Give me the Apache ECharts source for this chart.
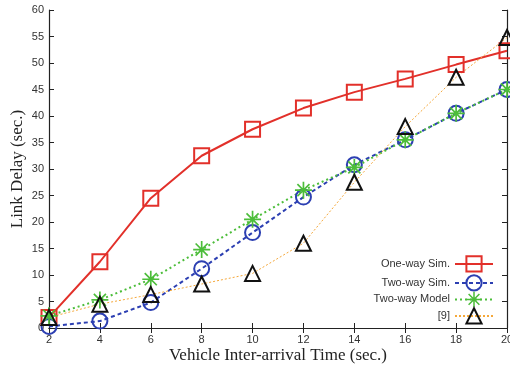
<!DOCTYPE html>
<html>
<head>
<meta charset="utf-8">
<script src="https://cdn.jsdelivr.net/npm/echarts@6/dist/echarts.min.js"></script>
<style>
  html, body { margin: 0; padding: 0; background: #fff; }
  #linkDelayChart { width: 510px; height: 367px; }
</style>
</head>
<body>
<div id="linkDelayChart"></div>
<script>
// 数据：车辆到达间隔 vs 链路时延
const interArrival = [2, 4, 6, 8, 10, 12, 14, 16, 18, 20]
const oneWaySim = [2.0, 12.5, 24.5, 32.5, 37.5, 41.5, 44.5, 47.0, 49.7, 52.3]
const twoWaySim = [0.3, 1.3, 4.8, 11.2, 18.0, 24.7, 30.8, 35.5, 40.5, 45.0]
const twoWayModel = [2.3, 5.3, 9.2, 14.8, 20.5, 26.0, 30.3, 35.5, 40.5, 45.0]
const ref9 = [2.0, 4.5, 6.3, 8.3, 10.3, 16.0, 27.5, 38.0, 47.3, 54.8]
const seriesNames = ['One-way Sim.', 'Two-way Sim.', 'Two-way Model', '[9]']

// 星号标记（gnuplot 的 * 号）
const asterisk = 'path://M0 9L20 9L20 11L0 11Z M9 0L11 0L11 20L9 20Z ' +
  'M2.2 3.6L3.6 2.2L17.8 16.4L16.4 17.8Z M16.4 2.2L17.8 3.6L3.6 17.8L2.2 16.4Z'

const pairs = arr => interArrival.map((x, i) => [x, arr[i]])

const chart = echarts.init(document.getElementById('linkDelayChart'))

function makeSeries(name, data, color, lineType, lineWidth, symbol, filled) {
  return {
    name: name,
    type: 'line',
    data: pairs(data),
    symbol: symbol,
    symbolSize: filled ? 17 : 15,
    showAllSymbol: true,
    animation: false,
    lineStyle: { color: color, width: lineWidth, type: lineType },
    itemStyle: filled
      ? { color: color, borderWidth: 0 }
      : { color: 'none', borderColor: symbol === 'triangle' ? '#111' : color, borderWidth: 2 }
  }
}

const tickStyle = { inside: true, length: 5, lineStyle: { color: '#222' } }
const lineStyle = { show: true, lineStyle: { color: '#222', width: 1.2 } }

const option = {
  backgroundColor: '#fff',
  grid: { left: 49, right: 3, top: 10, bottom: 39, outerBoundsMode: 'none', containLabel: false },
  xAxis: [
    {
      type: 'value',
      min: 2,
      max: 20,
      interval: 2,
      name: 'Vehicle Inter-arrival Time (sec.)',
      nameLocation: 'middle',
      nameGap: 19,
      nameMoveOverlap: false,
      nameTextStyle: { fontFamily: 'Liberation Serif', fontSize: 17, color: '#222', verticalAlign: 'top' },
      axisLine: lineStyle,
      axisTick: tickStyle,
      splitLine: { show: false },
      axisLabel: { fontFamily: 'Liberation Sans', fontSize: 11, color: '#333', margin: 6 }
    },
    {
      type: 'value',
      position: 'top',
      min: 2,
      max: 20,
      interval: 2,
      axisLine: lineStyle,
      axisTick: tickStyle,
      splitLine: { show: false },
      axisLabel: { show: false }
    }
  ],
  yAxis: [
    {
      type: 'value',
      min: 0,
      max: 60,
      interval: 5,
      name: 'Link Delay (sec.)',
      nameLocation: 'middle',
      nameGap: 23,
      nameMoveOverlap: false,
      nameTextStyle: { fontFamily: 'Liberation Serif', fontSize: 17, color: '#222' },
      axisLine: lineStyle,
      axisTick: tickStyle,
      splitLine: { show: false },
      axisLabel: { fontFamily: 'Liberation Sans', fontSize: 11, color: '#333', margin: 5 }
    },
    {
      type: 'value',
      position: 'right',
      min: 0,
      max: 60,
      interval: 5,
      axisLine: lineStyle,
      axisTick: tickStyle,
      splitLine: { show: false },
      axisLabel: { show: false }
    }
  ],
  legend: {
    data: seriesNames,
    orient: 'vertical',
    align: 'right',
    right: 16,
    bottom: 41,
    padding: 0,
    itemWidth: 38,
    itemHeight: 19,
    itemGap: -1.2,
    textStyle: { fontFamily: 'Liberation Sans', fontSize: 11, color: '#333' }
  },
  series: [
    makeSeries(seriesNames[0], oneWaySim, '#e2302a', 'solid', 2, 'rect', false),
    makeSeries(seriesNames[1], twoWaySim, '#2c3fb2', [4, 3], 2, 'circle', false),
    makeSeries(seriesNames[2], twoWayModel, '#4cbd3a', [2, 3], 2, asterisk, true),
    makeSeries(seriesNames[3], ref9, '#f5a83a', [2, 2], 1, 'triangle', false)
  ]
}

chart.setOption(option)
</script>
</body>
</html>
